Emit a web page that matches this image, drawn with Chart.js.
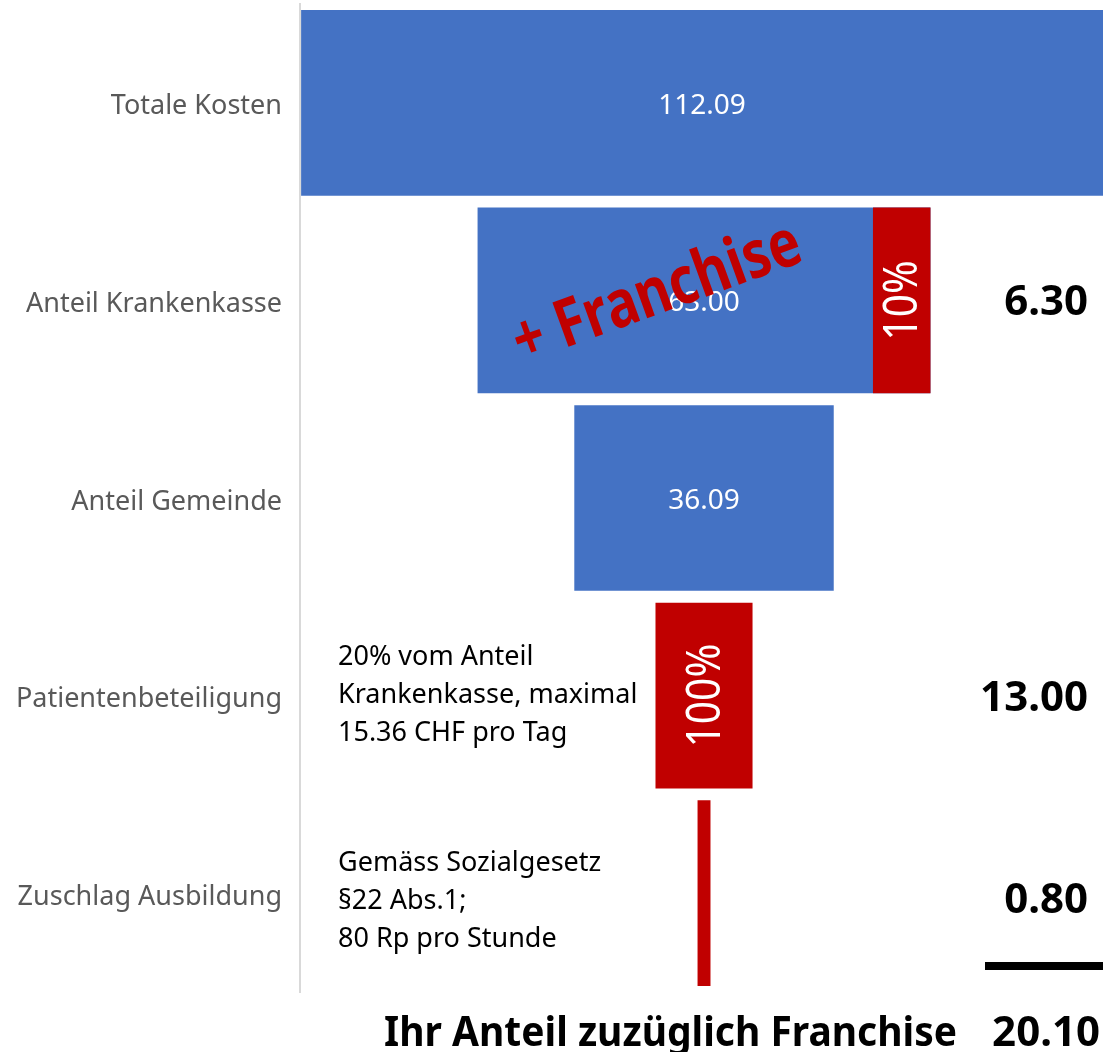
<!DOCTYPE html>
<html>
<head>
<meta charset="utf-8">
<script src="https://cdn.jsdelivr.net/npm/chart.js@4.4.1/dist/chart.umd.min.js"></script>
<style>
  html, body { margin: 0; padding: 0; background: #fff; }
  canvas { display: block; }
</style>
</head>
<body>
<canvas id="funnel" width="1103" height="1052"></canvas>
<script>
// categories and values
const categories = ['Totale Kosten', 'Anteil Krankenkasse', 'Anteil Gemeinde', 'Patientenbeteiligung', 'Zuschlag Ausbildung'];
const blueValues = [112.09, 63.00, 36.09, null, null];
const blueLabels = ['112.09', '63.00', '36.09', '', ''];
// width of the red parts as drawn
const redValues = [null, 8.0, null, 13.5, 1.8];
const redLabels = ['', '10%', '', '100%', ''];
const shareLabels = ['', '6.30', '', '13.00', '0.80'];
const totalText = 'Ihr Anteil zuzüglich Franchise';
const totalValue = '20.10';
const notes = [
  null, null, null,
  ['20% vom Anteil', 'Krankenkasse, maximal', '15.36 CHF pro Tag'],
  ['Gemäss Sozialgesetz', '§22 Abs.1;', '80 Rp pro Stunde'],
];

const BLUE = '#4472C4';
const RED = '#C00000';
const FONT = '"Noto Sans", "Open Sans", sans-serif';

// funnel: each bar centered on 0
const blueData = blueValues.map((v) => (v == null ? null : [-v / 2, v / 2]));
const redData = redValues.map((w, i) => {
  if (w == null) return null;
  if (blueValues[i] != null) return [blueValues[i] / 2 - w, blueValues[i] / 2];
  return [-w / 2, w / 2];
});

const textPlugin = {
  id: 'funnelTexts',
  afterDraw(chart) {
    const ctx = chart.ctx;
    const yScale = chart.scales.y;
    const blueMeta = chart.getDatasetMeta(1);
    const redMeta = chart.getDatasetMeta(0);
    ctx.save();

    // values inside the blue bars
    ctx.fillStyle = '#fff';
    ctx.font = `28px ${FONT}`;
    ctx.textAlign = 'center';
    ctx.textBaseline = 'middle';
    blueMeta.data.forEach((bar, i) => {
      if (!blueLabels[i]) return;
      const left = Math.max(bar.base, chart.chartArea.left);
      const right = Math.min(bar.x, chart.chartArea.right);
      ctx.fillText(blueLabels[i], (left + right) / 2, bar.y + 3);
    });

    // red franchise label across the Krankenkasse bar
    const kk = blueMeta.data[1];
    ctx.save();
    ctx.translate(kk.base + 180, kk.y - 6);
    ctx.rotate(-20 * Math.PI / 180);
    ctx.fillStyle = RED;
    ctx.font = `bold 66px ${FONT}`;
    ctx.fillText('+ Franchise', 0, 0, 302);
    ctx.restore();

    // vertical percentages in the red bars
    redMeta.data.forEach((bar, i) => {
      if (!redLabels[i]) return;
      ctx.save();
      ctx.translate((bar.x + bar.base) / 2, bar.y);
      ctx.rotate(-Math.PI / 2);
      ctx.fillStyle = '#fff';
      ctx.font = `48px ${FONT}`;
      ctx.fillText(redLabels[i], 0, 2, redLabels[i].length > 3 ? 104 : 80);
      ctx.restore();
    });

    // notes on the left
    ctx.fillStyle = '#000';
    ctx.font = `27px ${FONT}`;
    ctx.textAlign = 'left';
    ctx.textBaseline = 'alphabetic';
    notes.forEach((lines, i) => {
      if (!lines) return;
      const cy = yScale.getPixelForValue(i);
      const first = i === 3 ? cy - 31 : cy - 22;
      lines.forEach((line, k) => ctx.fillText(line, 338, first + k * 38));
    });

    // shares on the right
    ctx.font = `bold 42px ${FONT}`;
    ctx.textAlign = 'right';
    ctx.textBaseline = 'middle';
    shareLabels.forEach((s, i) => {
      if (!s) return;
      const cy = yScale.getPixelForValue(i);
      ctx.fillText(s, 1088, cy + (i === 4 ? 8 : 3));
    });

    // sum line and total
    ctx.fillStyle = '#000';
    ctx.fillRect(985, 962, 118, 8);
    ctx.textBaseline = 'alphabetic';
    ctx.textAlign = 'left';
    ctx.fillText(totalText, 384, 1046, 573);
    ctx.textAlign = 'right';
    ctx.fillText(totalValue, 1100, 1046);

    ctx.restore();
  },
};

new Chart(document.getElementById('funnel'), {
  type: 'bar',
  data: {
    labels: categories,
    datasets: [
      {
        label: 'Franchise',
        data: redData,
        backgroundColor: RED,
        grouped: false,
        order: 0,
        barPercentage: 0.94,
        categoryPercentage: 1,
      },
      {
        label: 'Kosten',
        data: blueData,
        backgroundColor: BLUE,
        grouped: false,
        order: 1,
        barPercentage: 0.94,
        categoryPercentage: 1,
      },
    ],
  },
  options: {
    indexAxis: 'y',
    responsive: false,
    devicePixelRatio: 1,
    animation: false,
    layout: { padding: { top: 4, bottom: 60, left: 0, right: 0 } },
    plugins: {
      legend: { display: false },
      tooltip: { enabled: false },
    },
    scales: {
      x: {
        display: false,
        min: -56.2,
        max: 55.5,
      },
      y: {
        grid: { display: false },
        border: { display: true, color: '#d9d9d9', width: 2 },
        ticks: {
          color: '#595959',
          font: { family: FONT, size: 27 },
          padding: 10,
          labelOffset: 4,
        },
        afterFit: (scale) => {
          scale.width = 300;
          scale.paddingTop = 0;
          scale.paddingBottom = 0;
        },
      },
    },
  },
  plugins: [textPlugin],
});
</script>
</body>
</html>
